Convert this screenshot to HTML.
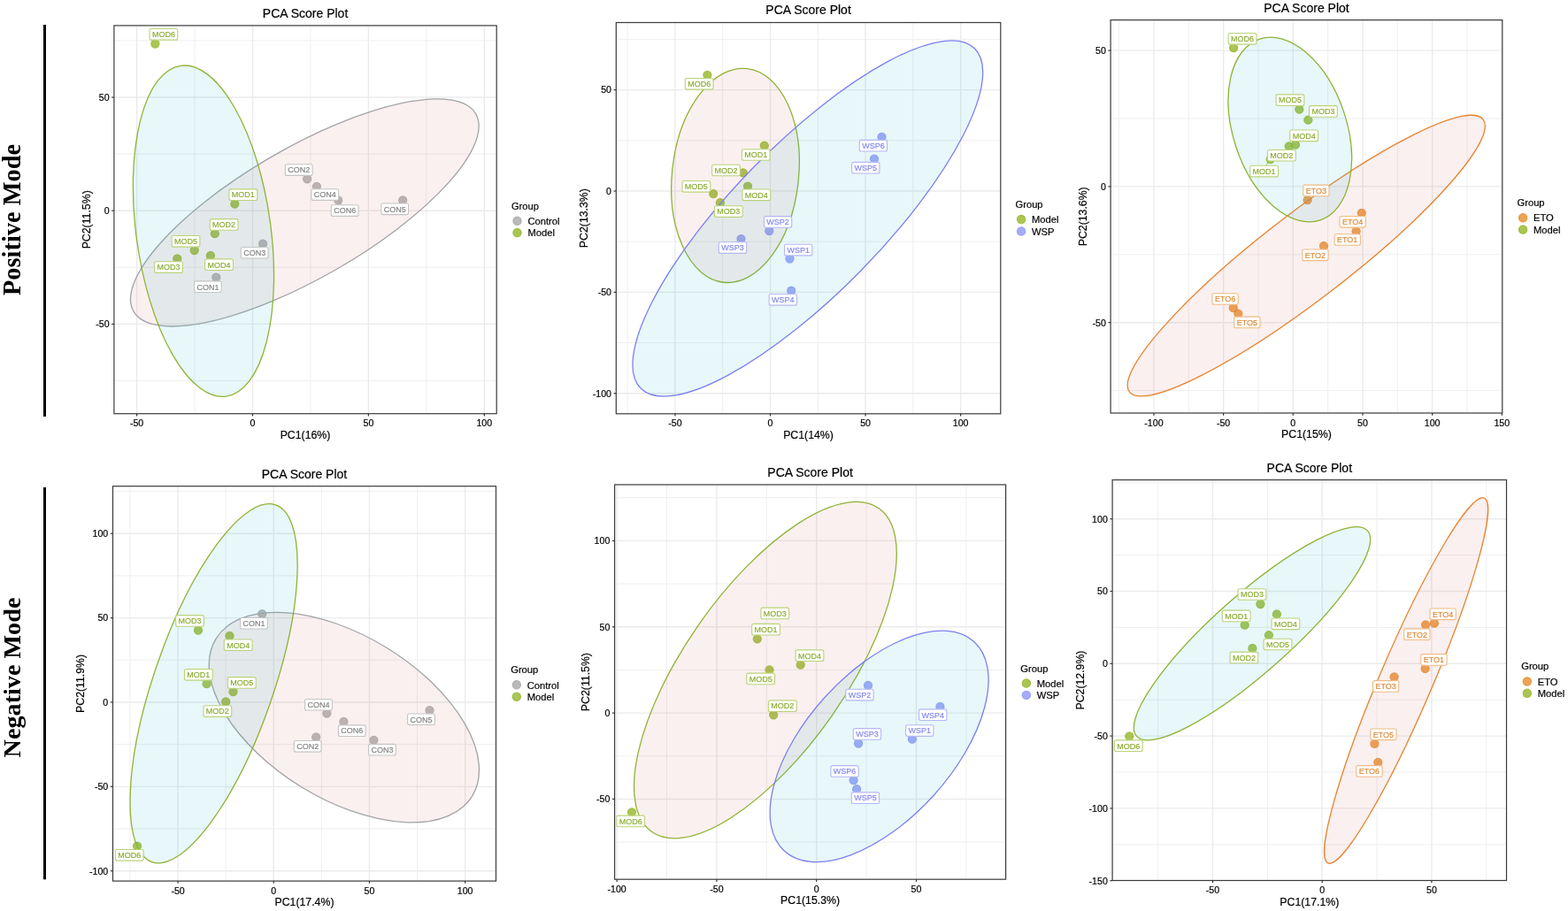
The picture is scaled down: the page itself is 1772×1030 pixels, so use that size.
<!DOCTYPE html>
<html><head><meta charset="utf-8"><title>PCA Score Plots</title><style>html,body{margin:0;padding:0;background:#fff;}svg{display:block;}</style></head><body>
<svg width="1772" height="1030" viewBox="0 0 1772 1030">
<rect width="1772" height="1030" fill="#fff"/>
<rect x="49" y="28" width="3" height="443" fill="#000"/>
<rect x="49" y="551" width="3" height="443.3" fill="#000"/>
<text transform="translate(22.6,248.5) rotate(-90)" text-anchor="middle" font-family="'Liberation Serif', 'Times New Roman', serif" font-weight="bold" font-size="28.4" fill="#000">Positive Mode</text>
<text transform="translate(22.6,766) rotate(-90)" text-anchor="middle" font-family="'Liberation Serif', 'Times New Roman', serif" font-weight="bold" font-size="28.2" fill="#000">Negative Mode</text>
<defs><clipPath id="c0"><rect x="128.9" y="28.9" width="432.3" height="438.8"/></clipPath></defs>
<g clip-path="url(#c0)">
<line x1="220.05" y1="28.9" x2="220.05" y2="467.7" stroke="#efefef" stroke-width="1.0"/>
<line x1="350.95" y1="28.9" x2="350.95" y2="467.7" stroke="#efefef" stroke-width="1.0"/>
<line x1="481.85" y1="28.9" x2="481.85" y2="467.7" stroke="#efefef" stroke-width="1.0"/>
<line x1="128.9" y1="430.5" x2="561.2" y2="430.5" stroke="#efefef" stroke-width="1.0"/>
<line x1="128.9" y1="302.3" x2="561.2" y2="302.3" stroke="#efefef" stroke-width="1.0"/>
<line x1="128.9" y1="174.1" x2="561.2" y2="174.1" stroke="#efefef" stroke-width="1.0"/>
<line x1="128.9" y1="45.9" x2="561.2" y2="45.9" stroke="#efefef" stroke-width="1.0"/>
<line x1="154.6" y1="28.9" x2="154.6" y2="467.7" stroke="#ebebeb" stroke-width="1.4"/>
<line x1="285.5" y1="28.9" x2="285.5" y2="467.7" stroke="#ebebeb" stroke-width="1.4"/>
<line x1="416.4" y1="28.9" x2="416.4" y2="467.7" stroke="#ebebeb" stroke-width="1.4"/>
<line x1="547.3" y1="28.9" x2="547.3" y2="467.7" stroke="#ebebeb" stroke-width="1.4"/>
<line x1="128.9" y1="366.4" x2="561.2" y2="366.4" stroke="#ebebeb" stroke-width="1.4"/>
<line x1="128.9" y1="238.2" x2="561.2" y2="238.2" stroke="#ebebeb" stroke-width="1.4"/>
<line x1="128.9" y1="110" x2="561.2" y2="110" stroke="#ebebeb" stroke-width="1.4"/>
<circle cx="175.4" cy="49.5" r="4.6" fill="#95b628" fill-opacity="0.8" stroke="#95b628" stroke-opacity="0.8" stroke-width="1.1"/>
<circle cx="265.3" cy="230.6" r="4.6" fill="#95b628" fill-opacity="0.8" stroke="#95b628" stroke-opacity="0.8" stroke-width="1.1"/>
<circle cx="242.8" cy="264.2" r="4.6" fill="#95b628" fill-opacity="0.8" stroke="#95b628" stroke-opacity="0.8" stroke-width="1.1"/>
<circle cx="219.7" cy="283" r="4.6" fill="#95b628" fill-opacity="0.8" stroke="#95b628" stroke-opacity="0.8" stroke-width="1.1"/>
<circle cx="200.3" cy="292.5" r="4.6" fill="#95b628" fill-opacity="0.8" stroke="#95b628" stroke-opacity="0.8" stroke-width="1.1"/>
<circle cx="237.9" cy="289" r="4.6" fill="#95b628" fill-opacity="0.8" stroke="#95b628" stroke-opacity="0.8" stroke-width="1.1"/>
<circle cx="244.3" cy="313.6" r="4.6" fill="#a8a8a8" fill-opacity="0.8" stroke="#a8a8a8" stroke-opacity="0.8" stroke-width="1.1"/>
<circle cx="297.1" cy="275.6" r="4.6" fill="#a8a8a8" fill-opacity="0.8" stroke="#a8a8a8" stroke-opacity="0.8" stroke-width="1.1"/>
<circle cx="347.1" cy="202.3" r="4.6" fill="#a8a8a8" fill-opacity="0.8" stroke="#a8a8a8" stroke-opacity="0.8" stroke-width="1.1"/>
<circle cx="357.9" cy="210.8" r="4.6" fill="#a8a8a8" fill-opacity="0.8" stroke="#a8a8a8" stroke-opacity="0.8" stroke-width="1.1"/>
<circle cx="382.2" cy="226.3" r="4.6" fill="#a8a8a8" fill-opacity="0.8" stroke="#a8a8a8" stroke-opacity="0.8" stroke-width="1.1"/>
<circle cx="455.2" cy="226.5" r="4.6" fill="#a8a8a8" fill-opacity="0.8" stroke="#a8a8a8" stroke-opacity="0.8" stroke-width="1.1"/>
<ellipse cx="344.31" cy="240.42" rx="223.32" ry="73.41" transform="rotate(149.98 344.31 240.42)" fill="#cd695f" fill-opacity="0.1" stroke="#a3a3a8" stroke-width="1.3"/>
<ellipse cx="229.95" cy="261.17" rx="188.62" ry="76.06" transform="rotate(-97.81 229.95 261.17)" fill="#19afc3" fill-opacity="0.1" stroke="#8fb334" stroke-width="1.3"/>
<line x1="382.2" y1="226" x2="386.5" y2="232.5" stroke="#a3a3a8" stroke-width="0.9"/>
<rect x="169" y="32.55" width="31.8" height="12.6" rx="2" fill="#fff" stroke="#b9d37a" stroke-width="1.1"/>
<text transform="translate(184.9,42.15) scale(1,1.02)" text-anchor="middle" font-family="'Liberation Sans', Arial, Helvetica, sans-serif" font-size="9" fill="#88aa2c" stroke="#88aa2c" stroke-width="0.15">MOD6</text>
<rect x="258.95" y="213.85" width="31.8" height="12.6" rx="2" fill="#fff" stroke="#b9d37a" stroke-width="1.1"/>
<text transform="translate(274.85,223.45) scale(1,1.02)" text-anchor="middle" font-family="'Liberation Sans', Arial, Helvetica, sans-serif" font-size="9" fill="#88aa2c" stroke="#88aa2c" stroke-width="0.15">MOD1</text>
<rect x="237.2" y="247.6" width="31.8" height="12.6" rx="2" fill="#fff" stroke="#b9d37a" stroke-width="1.1"/>
<text transform="translate(253.1,257.2) scale(1,1.02)" text-anchor="middle" font-family="'Liberation Sans', Arial, Helvetica, sans-serif" font-size="9" fill="#88aa2c" stroke="#88aa2c" stroke-width="0.15">MOD2</text>
<rect x="194.1" y="266.5" width="31.8" height="12.6" rx="2" fill="#fff" stroke="#b9d37a" stroke-width="1.1"/>
<text transform="translate(210,276.1) scale(1,1.02)" text-anchor="middle" font-family="'Liberation Sans', Arial, Helvetica, sans-serif" font-size="9" fill="#88aa2c" stroke="#88aa2c" stroke-width="0.15">MOD5</text>
<rect x="174.65" y="295.8" width="31.8" height="12.6" rx="2" fill="#fff" stroke="#b9d37a" stroke-width="1.1"/>
<text transform="translate(190.55,305.4) scale(1,1.02)" text-anchor="middle" font-family="'Liberation Sans', Arial, Helvetica, sans-serif" font-size="9" fill="#88aa2c" stroke="#88aa2c" stroke-width="0.15">MOD3</text>
<rect x="231.6" y="292.9" width="31.8" height="12.6" rx="2" fill="#fff" stroke="#b9d37a" stroke-width="1.1"/>
<text transform="translate(247.5,302.5) scale(1,1.02)" text-anchor="middle" font-family="'Liberation Sans', Arial, Helvetica, sans-serif" font-size="9" fill="#88aa2c" stroke="#88aa2c" stroke-width="0.15">MOD4</text>
<rect x="219.5" y="317.9" width="30.8" height="12.6" rx="2" fill="#fff" stroke="#c4c4c4" stroke-width="1.1"/>
<text transform="translate(234.9,327.5) scale(1,1.02)" text-anchor="middle" font-family="'Liberation Sans', Arial, Helvetica, sans-serif" font-size="9" fill="#808080" stroke="#808080" stroke-width="0.15">CON1</text>
<rect x="272.25" y="279.45" width="30.8" height="12.6" rx="2" fill="#fff" stroke="#c4c4c4" stroke-width="1.1"/>
<text transform="translate(287.65,289.05) scale(1,1.02)" text-anchor="middle" font-family="'Liberation Sans', Arial, Helvetica, sans-serif" font-size="9" fill="#808080" stroke="#808080" stroke-width="0.15">CON3</text>
<rect x="322.35" y="185.8" width="30.8" height="12.6" rx="2" fill="#fff" stroke="#c4c4c4" stroke-width="1.1"/>
<text transform="translate(337.75,195.4) scale(1,1.02)" text-anchor="middle" font-family="'Liberation Sans', Arial, Helvetica, sans-serif" font-size="9" fill="#808080" stroke="#808080" stroke-width="0.15">CON2</text>
<rect x="351.85" y="213.8" width="30.8" height="12.6" rx="2" fill="#fff" stroke="#c4c4c4" stroke-width="1.1"/>
<text transform="translate(367.25,223.4) scale(1,1.02)" text-anchor="middle" font-family="'Liberation Sans', Arial, Helvetica, sans-serif" font-size="9" fill="#808080" stroke="#808080" stroke-width="0.15">CON4</text>
<rect x="374.25" y="231.8" width="30.8" height="12.6" rx="2" fill="#fff" stroke="#c4c4c4" stroke-width="1.1"/>
<text transform="translate(389.65,241.4) scale(1,1.02)" text-anchor="middle" font-family="'Liberation Sans', Arial, Helvetica, sans-serif" font-size="9" fill="#808080" stroke="#808080" stroke-width="0.15">CON6</text>
<rect x="430.8" y="230" width="30.8" height="12.6" rx="2" fill="#fff" stroke="#c4c4c4" stroke-width="1.1"/>
<text transform="translate(446.2,239.6) scale(1,1.02)" text-anchor="middle" font-family="'Liberation Sans', Arial, Helvetica, sans-serif" font-size="9" fill="#808080" stroke="#808080" stroke-width="0.15">CON5</text>
</g>
<rect x="128.9" y="28.9" width="432.3" height="438.8" fill="none" stroke="#3a3a3a" stroke-width="1.2"/>
<line x1="154.6" y1="467.7" x2="154.6" y2="470.4" stroke="#333" stroke-width="1.2"/>
<text x="154.6" y="482.2" text-anchor="middle" font-family="'Liberation Sans', Arial, Helvetica, sans-serif" font-size="10.6" fill="#000" stroke="#000" stroke-width="0.2">-50</text>
<line x1="285.5" y1="467.7" x2="285.5" y2="470.4" stroke="#333" stroke-width="1.2"/>
<text x="285.5" y="482.2" text-anchor="middle" font-family="'Liberation Sans', Arial, Helvetica, sans-serif" font-size="10.6" fill="#000" stroke="#000" stroke-width="0.2">0</text>
<line x1="416.4" y1="467.7" x2="416.4" y2="470.4" stroke="#333" stroke-width="1.2"/>
<text x="416.4" y="482.2" text-anchor="middle" font-family="'Liberation Sans', Arial, Helvetica, sans-serif" font-size="10.6" fill="#000" stroke="#000" stroke-width="0.2">50</text>
<line x1="547.3" y1="467.7" x2="547.3" y2="470.4" stroke="#333" stroke-width="1.2"/>
<text x="547.3" y="482.2" text-anchor="middle" font-family="'Liberation Sans', Arial, Helvetica, sans-serif" font-size="10.6" fill="#000" stroke="#000" stroke-width="0.2">100</text>
<line x1="126.2" y1="366.4" x2="128.9" y2="366.4" stroke="#333" stroke-width="1.2"/>
<text x="123.6" y="370.2" text-anchor="end" font-family="'Liberation Sans', Arial, Helvetica, sans-serif" font-size="10.6" fill="#000" stroke="#000" stroke-width="0.2">-50</text>
<line x1="126.2" y1="238.2" x2="128.9" y2="238.2" stroke="#333" stroke-width="1.2"/>
<text x="123.6" y="242" text-anchor="end" font-family="'Liberation Sans', Arial, Helvetica, sans-serif" font-size="10.6" fill="#000" stroke="#000" stroke-width="0.2">0</text>
<line x1="126.2" y1="110" x2="128.9" y2="110" stroke="#333" stroke-width="1.2"/>
<text x="123.6" y="113.8" text-anchor="end" font-family="'Liberation Sans', Arial, Helvetica, sans-serif" font-size="10.6" fill="#000" stroke="#000" stroke-width="0.2">50</text>
<text x="345.05" y="19.8" text-anchor="middle" font-family="'Liberation Sans', Arial, Helvetica, sans-serif" font-size="14" fill="#000" stroke="#000" stroke-width="0.2">PCA Score Plot</text>
<text x="345.05" y="495.9" text-anchor="middle" font-family="'Liberation Sans', Arial, Helvetica, sans-serif" font-size="12.3" fill="#000" stroke="#000" stroke-width="0.2">PC1(16%)</text>
<text transform="translate(102.28,248.3) rotate(-90)" text-anchor="middle" font-family="'Liberation Sans', Arial, Helvetica, sans-serif" font-size="12.3" fill="#000" stroke="#000" stroke-width="0.2">PC2(11.5%)</text>
<text x="577.9" y="236.7" font-family="'Liberation Sans', Arial, Helvetica, sans-serif" font-size="11.2" fill="#000" stroke="#000" stroke-width="0.2">Group</text>
<circle cx="584.5" cy="249.7" r="4.7" fill="#a8a8a8" fill-opacity="0.8" stroke="#a8a8a8" stroke-opacity="0.8" stroke-width="1.1"/>
<text x="596.4" y="253.9" font-family="'Liberation Sans', Arial, Helvetica, sans-serif" font-size="11.2" fill="#000" stroke="#000" stroke-width="0.2">Control</text>
<circle cx="584.5" cy="263.1" r="4.7" fill="#95b628" fill-opacity="0.8" stroke="#95b628" stroke-opacity="0.8" stroke-width="1.1"/>
<text x="596.4" y="267.3" font-family="'Liberation Sans', Arial, Helvetica, sans-serif" font-size="11.2" fill="#000" stroke="#000" stroke-width="0.2">Model</text>
<defs><clipPath id="c1"><rect x="696.3" y="25.5" width="434.5" height="442.3"/></clipPath></defs>
<g clip-path="url(#c1)">
<line x1="709.17" y1="25.5" x2="709.17" y2="467.8" stroke="#efefef" stroke-width="1.0"/>
<line x1="816.73" y1="25.5" x2="816.73" y2="467.8" stroke="#efefef" stroke-width="1.0"/>
<line x1="924.27" y1="25.5" x2="924.27" y2="467.8" stroke="#efefef" stroke-width="1.0"/>
<line x1="1031.83" y1="25.5" x2="1031.83" y2="467.8" stroke="#efefef" stroke-width="1.0"/>
<line x1="696.3" y1="387.6" x2="1130.8" y2="387.6" stroke="#efefef" stroke-width="1.0"/>
<line x1="696.3" y1="273.2" x2="1130.8" y2="273.2" stroke="#efefef" stroke-width="1.0"/>
<line x1="696.3" y1="158.8" x2="1130.8" y2="158.8" stroke="#efefef" stroke-width="1.0"/>
<line x1="696.3" y1="44.4" x2="1130.8" y2="44.4" stroke="#efefef" stroke-width="1.0"/>
<line x1="762.95" y1="25.5" x2="762.95" y2="467.8" stroke="#ebebeb" stroke-width="1.4"/>
<line x1="870.5" y1="25.5" x2="870.5" y2="467.8" stroke="#ebebeb" stroke-width="1.4"/>
<line x1="978.05" y1="25.5" x2="978.05" y2="467.8" stroke="#ebebeb" stroke-width="1.4"/>
<line x1="1085.6" y1="25.5" x2="1085.6" y2="467.8" stroke="#ebebeb" stroke-width="1.4"/>
<line x1="696.3" y1="444.8" x2="1130.8" y2="444.8" stroke="#ebebeb" stroke-width="1.4"/>
<line x1="696.3" y1="330.4" x2="1130.8" y2="330.4" stroke="#ebebeb" stroke-width="1.4"/>
<line x1="696.3" y1="216" x2="1130.8" y2="216" stroke="#ebebeb" stroke-width="1.4"/>
<line x1="696.3" y1="101.6" x2="1130.8" y2="101.6" stroke="#ebebeb" stroke-width="1.4"/>
<circle cx="799.4" cy="84.8" r="4.6" fill="#95b628" fill-opacity="0.8" stroke="#95b628" stroke-opacity="0.8" stroke-width="1.1"/>
<circle cx="863.8" cy="164.7" r="4.6" fill="#95b628" fill-opacity="0.8" stroke="#95b628" stroke-opacity="0.8" stroke-width="1.1"/>
<circle cx="839.8" cy="195.3" r="4.6" fill="#95b628" fill-opacity="0.8" stroke="#95b628" stroke-opacity="0.8" stroke-width="1.1"/>
<circle cx="845" cy="210.6" r="4.6" fill="#95b628" fill-opacity="0.8" stroke="#95b628" stroke-opacity="0.8" stroke-width="1.1"/>
<circle cx="806.2" cy="219.1" r="4.6" fill="#95b628" fill-opacity="0.8" stroke="#95b628" stroke-opacity="0.8" stroke-width="1.1"/>
<circle cx="813.9" cy="229.2" r="4.6" fill="#95b628" fill-opacity="0.8" stroke="#95b628" stroke-opacity="0.8" stroke-width="1.1"/>
<circle cx="869.3" cy="261" r="4.6" fill="#8f96f8" fill-opacity="0.8" stroke="#8f96f8" stroke-opacity="0.8" stroke-width="1.1"/>
<circle cx="837.5" cy="270.1" r="4.6" fill="#8f96f8" fill-opacity="0.8" stroke="#8f96f8" stroke-opacity="0.8" stroke-width="1.1"/>
<circle cx="892.5" cy="292.5" r="4.6" fill="#8f96f8" fill-opacity="0.8" stroke="#8f96f8" stroke-opacity="0.8" stroke-width="1.1"/>
<circle cx="894.2" cy="328.6" r="4.6" fill="#8f96f8" fill-opacity="0.8" stroke="#8f96f8" stroke-opacity="0.8" stroke-width="1.1"/>
<circle cx="996.5" cy="154.8" r="4.6" fill="#8f96f8" fill-opacity="0.8" stroke="#8f96f8" stroke-opacity="0.8" stroke-width="1.1"/>
<circle cx="988" cy="179.6" r="4.6" fill="#8f96f8" fill-opacity="0.8" stroke="#8f96f8" stroke-opacity="0.8" stroke-width="1.1"/>
<ellipse cx="831" cy="198.4" rx="121.55" ry="71.5" transform="rotate(-83.76 831 198.4)" fill="#cd695f" fill-opacity="0.1" stroke="#8fb334" stroke-width="1.3"/>
<ellipse cx="912.84" cy="246.99" rx="269.24" ry="84.19" transform="rotate(-45.56 912.84 246.99)" fill="#19afc3" fill-opacity="0.1" stroke="#7b7ff2" stroke-width="1.3"/>
<rect x="774.25" y="88.5" width="31.8" height="12.6" rx="2" fill="#fff" stroke="#b9d37a" stroke-width="1.1"/>
<text transform="translate(790.15,98.1) scale(1,1.02)" text-anchor="middle" font-family="'Liberation Sans', Arial, Helvetica, sans-serif" font-size="9" fill="#88aa2c" stroke="#88aa2c" stroke-width="0.15">MOD6</text>
<rect x="838.35" y="168.7" width="31.8" height="12.6" rx="2" fill="#fff" stroke="#b9d37a" stroke-width="1.1"/>
<text transform="translate(854.25,178.3) scale(1,1.02)" text-anchor="middle" font-family="'Liberation Sans', Arial, Helvetica, sans-serif" font-size="9" fill="#88aa2c" stroke="#88aa2c" stroke-width="0.15">MOD1</text>
<rect x="804.65" y="186.2" width="31.8" height="12.6" rx="2" fill="#fff" stroke="#b9d37a" stroke-width="1.1"/>
<text transform="translate(820.55,195.8) scale(1,1.02)" text-anchor="middle" font-family="'Liberation Sans', Arial, Helvetica, sans-serif" font-size="9" fill="#88aa2c" stroke="#88aa2c" stroke-width="0.15">MOD2</text>
<rect x="838.85" y="214" width="31.8" height="12.6" rx="2" fill="#fff" stroke="#b9d37a" stroke-width="1.1"/>
<text transform="translate(854.75,223.6) scale(1,1.02)" text-anchor="middle" font-family="'Liberation Sans', Arial, Helvetica, sans-serif" font-size="9" fill="#88aa2c" stroke="#88aa2c" stroke-width="0.15">MOD4</text>
<rect x="770.95" y="204.5" width="31.8" height="12.6" rx="2" fill="#fff" stroke="#b9d37a" stroke-width="1.1"/>
<text transform="translate(786.85,214.1) scale(1,1.02)" text-anchor="middle" font-family="'Liberation Sans', Arial, Helvetica, sans-serif" font-size="9" fill="#88aa2c" stroke="#88aa2c" stroke-width="0.15">MOD5</text>
<rect x="807.45" y="232.75" width="31.8" height="12.6" rx="2" fill="#fff" stroke="#b9d37a" stroke-width="1.1"/>
<text transform="translate(823.35,242.35) scale(1,1.02)" text-anchor="middle" font-family="'Liberation Sans', Arial, Helvetica, sans-serif" font-size="9" fill="#88aa2c" stroke="#88aa2c" stroke-width="0.15">MOD3</text>
<rect x="863.45" y="244.65" width="31.31" height="12.6" rx="2" fill="#fff" stroke="#b4b8f7" stroke-width="1.1"/>
<text transform="translate(879.1,254.25) scale(1,1.02)" text-anchor="middle" font-family="'Liberation Sans', Arial, Helvetica, sans-serif" font-size="9" fill="#8086ee" stroke="#8086ee" stroke-width="0.15">WSP2</text>
<rect x="812.3" y="273.8" width="31.31" height="12.6" rx="2" fill="#fff" stroke="#b4b8f7" stroke-width="1.1"/>
<text transform="translate(827.95,283.4) scale(1,1.02)" text-anchor="middle" font-family="'Liberation Sans', Arial, Helvetica, sans-serif" font-size="9" fill="#8086ee" stroke="#8086ee" stroke-width="0.15">WSP3</text>
<rect x="886.55" y="276.3" width="31.31" height="12.6" rx="2" fill="#fff" stroke="#b4b8f7" stroke-width="1.1"/>
<text transform="translate(902.2,285.9) scale(1,1.02)" text-anchor="middle" font-family="'Liberation Sans', Arial, Helvetica, sans-serif" font-size="9" fill="#8086ee" stroke="#8086ee" stroke-width="0.15">WSP1</text>
<rect x="869.2" y="332.55" width="31.31" height="12.6" rx="2" fill="#fff" stroke="#b4b8f7" stroke-width="1.1"/>
<text transform="translate(884.85,342.15) scale(1,1.02)" text-anchor="middle" font-family="'Liberation Sans', Arial, Helvetica, sans-serif" font-size="9" fill="#8086ee" stroke="#8086ee" stroke-width="0.15">WSP4</text>
<rect x="971.25" y="158.4" width="31.31" height="12.6" rx="2" fill="#fff" stroke="#b4b8f7" stroke-width="1.1"/>
<text transform="translate(986.9,168) scale(1,1.02)" text-anchor="middle" font-family="'Liberation Sans', Arial, Helvetica, sans-serif" font-size="9" fill="#8086ee" stroke="#8086ee" stroke-width="0.15">WSP6</text>
<rect x="962.65" y="183.4" width="31.31" height="12.6" rx="2" fill="#fff" stroke="#b4b8f7" stroke-width="1.1"/>
<text transform="translate(978.3,193) scale(1,1.02)" text-anchor="middle" font-family="'Liberation Sans', Arial, Helvetica, sans-serif" font-size="9" fill="#8086ee" stroke="#8086ee" stroke-width="0.15">WSP5</text>
</g>
<rect x="696.3" y="25.5" width="434.5" height="442.3" fill="none" stroke="#3a3a3a" stroke-width="1.2"/>
<line x1="762.95" y1="467.8" x2="762.95" y2="470.5" stroke="#333" stroke-width="1.2"/>
<text x="762.95" y="482.3" text-anchor="middle" font-family="'Liberation Sans', Arial, Helvetica, sans-serif" font-size="10.6" fill="#000" stroke="#000" stroke-width="0.2">-50</text>
<line x1="870.5" y1="467.8" x2="870.5" y2="470.5" stroke="#333" stroke-width="1.2"/>
<text x="870.5" y="482.3" text-anchor="middle" font-family="'Liberation Sans', Arial, Helvetica, sans-serif" font-size="10.6" fill="#000" stroke="#000" stroke-width="0.2">0</text>
<line x1="978.05" y1="467.8" x2="978.05" y2="470.5" stroke="#333" stroke-width="1.2"/>
<text x="978.05" y="482.3" text-anchor="middle" font-family="'Liberation Sans', Arial, Helvetica, sans-serif" font-size="10.6" fill="#000" stroke="#000" stroke-width="0.2">50</text>
<line x1="1085.6" y1="467.8" x2="1085.6" y2="470.5" stroke="#333" stroke-width="1.2"/>
<text x="1085.6" y="482.3" text-anchor="middle" font-family="'Liberation Sans', Arial, Helvetica, sans-serif" font-size="10.6" fill="#000" stroke="#000" stroke-width="0.2">100</text>
<line x1="693.6" y1="444.8" x2="696.3" y2="444.8" stroke="#333" stroke-width="1.2"/>
<text x="691" y="448.6" text-anchor="end" font-family="'Liberation Sans', Arial, Helvetica, sans-serif" font-size="10.6" fill="#000" stroke="#000" stroke-width="0.2">-100</text>
<line x1="693.6" y1="330.4" x2="696.3" y2="330.4" stroke="#333" stroke-width="1.2"/>
<text x="691" y="334.2" text-anchor="end" font-family="'Liberation Sans', Arial, Helvetica, sans-serif" font-size="10.6" fill="#000" stroke="#000" stroke-width="0.2">-50</text>
<line x1="693.6" y1="216" x2="696.3" y2="216" stroke="#333" stroke-width="1.2"/>
<text x="691" y="219.8" text-anchor="end" font-family="'Liberation Sans', Arial, Helvetica, sans-serif" font-size="10.6" fill="#000" stroke="#000" stroke-width="0.2">0</text>
<line x1="693.6" y1="101.6" x2="696.3" y2="101.6" stroke="#333" stroke-width="1.2"/>
<text x="691" y="105.4" text-anchor="end" font-family="'Liberation Sans', Arial, Helvetica, sans-serif" font-size="10.6" fill="#000" stroke="#000" stroke-width="0.2">50</text>
<text x="913.55" y="16.4" text-anchor="middle" font-family="'Liberation Sans', Arial, Helvetica, sans-serif" font-size="14" fill="#000" stroke="#000" stroke-width="0.2">PCA Score Plot</text>
<text x="913.55" y="496" text-anchor="middle" font-family="'Liberation Sans', Arial, Helvetica, sans-serif" font-size="12.3" fill="#000" stroke="#000" stroke-width="0.2">PC1(14%)</text>
<text transform="translate(663.79,246.65) rotate(-90)" text-anchor="middle" font-family="'Liberation Sans', Arial, Helvetica, sans-serif" font-size="12.3" fill="#000" stroke="#000" stroke-width="0.2">PC2(13.3%)</text>
<text x="1147.5" y="235.05" font-family="'Liberation Sans', Arial, Helvetica, sans-serif" font-size="11.2" fill="#000" stroke="#000" stroke-width="0.2">Group</text>
<circle cx="1154.1" cy="248.05" r="4.7" fill="#95b628" fill-opacity="0.8" stroke="#95b628" stroke-opacity="0.8" stroke-width="1.1"/>
<text x="1166" y="252.25" font-family="'Liberation Sans', Arial, Helvetica, sans-serif" font-size="11.2" fill="#000" stroke="#000" stroke-width="0.2">Model</text>
<circle cx="1154.1" cy="261.45" r="4.7" fill="#8f96f8" fill-opacity="0.8" stroke="#8f96f8" stroke-opacity="0.8" stroke-width="1.1"/>
<text x="1166" y="265.65" font-family="'Liberation Sans', Arial, Helvetica, sans-serif" font-size="11.2" fill="#000" stroke="#000" stroke-width="0.2">WSP</text>
<defs><clipPath id="c2"><rect x="1255.1" y="22.6" width="442.7" height="444.4"/></clipPath></defs>
<g clip-path="url(#c2)">
<line x1="1264.61" y1="22.6" x2="1264.61" y2="467" stroke="#efefef" stroke-width="1.0"/>
<line x1="1343.29" y1="22.6" x2="1343.29" y2="467" stroke="#efefef" stroke-width="1.0"/>
<line x1="1421.96" y1="22.6" x2="1421.96" y2="467" stroke="#efefef" stroke-width="1.0"/>
<line x1="1500.64" y1="22.6" x2="1500.64" y2="467" stroke="#efefef" stroke-width="1.0"/>
<line x1="1579.31" y1="22.6" x2="1579.31" y2="467" stroke="#efefef" stroke-width="1.0"/>
<line x1="1657.99" y1="22.6" x2="1657.99" y2="467" stroke="#efefef" stroke-width="1.0"/>
<line x1="1255.1" y1="441.6" x2="1697.8" y2="441.6" stroke="#efefef" stroke-width="1.0"/>
<line x1="1255.1" y1="287.8" x2="1697.8" y2="287.8" stroke="#efefef" stroke-width="1.0"/>
<line x1="1255.1" y1="134" x2="1697.8" y2="134" stroke="#efefef" stroke-width="1.0"/>
<line x1="1303.95" y1="22.6" x2="1303.95" y2="467" stroke="#ebebeb" stroke-width="1.4"/>
<line x1="1382.62" y1="22.6" x2="1382.62" y2="467" stroke="#ebebeb" stroke-width="1.4"/>
<line x1="1461.3" y1="22.6" x2="1461.3" y2="467" stroke="#ebebeb" stroke-width="1.4"/>
<line x1="1539.97" y1="22.6" x2="1539.97" y2="467" stroke="#ebebeb" stroke-width="1.4"/>
<line x1="1618.65" y1="22.6" x2="1618.65" y2="467" stroke="#ebebeb" stroke-width="1.4"/>
<line x1="1697.32" y1="22.6" x2="1697.32" y2="467" stroke="#ebebeb" stroke-width="1.4"/>
<line x1="1255.1" y1="364.7" x2="1697.8" y2="364.7" stroke="#ebebeb" stroke-width="1.4"/>
<line x1="1255.1" y1="210.9" x2="1697.8" y2="210.9" stroke="#ebebeb" stroke-width="1.4"/>
<line x1="1255.1" y1="57.1" x2="1697.8" y2="57.1" stroke="#ebebeb" stroke-width="1.4"/>
<circle cx="1394.1" cy="54.2" r="4.6" fill="#95b628" fill-opacity="0.8" stroke="#95b628" stroke-opacity="0.8" stroke-width="1.1"/>
<circle cx="1468.3" cy="123.6" r="4.6" fill="#95b628" fill-opacity="0.8" stroke="#95b628" stroke-opacity="0.8" stroke-width="1.1"/>
<circle cx="1478.3" cy="135.7" r="4.6" fill="#95b628" fill-opacity="0.8" stroke="#95b628" stroke-opacity="0.8" stroke-width="1.1"/>
<circle cx="1456.6" cy="165.3" r="4.6" fill="#95b628" fill-opacity="0.8" stroke="#95b628" stroke-opacity="0.8" stroke-width="1.1"/>
<circle cx="1464" cy="163.7" r="4.6" fill="#95b628" fill-opacity="0.8" stroke="#95b628" stroke-opacity="0.8" stroke-width="1.1"/>
<circle cx="1435.7" cy="180.1" r="4.6" fill="#95b628" fill-opacity="0.8" stroke="#95b628" stroke-opacity="0.8" stroke-width="1.1"/>
<circle cx="1477.6" cy="226.2" r="4.6" fill="#e78c2c" fill-opacity="0.8" stroke="#e78c2c" stroke-opacity="0.8" stroke-width="1.1"/>
<circle cx="1538.8" cy="240.8" r="4.6" fill="#e78c2c" fill-opacity="0.8" stroke="#e78c2c" stroke-opacity="0.8" stroke-width="1.1"/>
<circle cx="1532.6" cy="261.6" r="4.6" fill="#e78c2c" fill-opacity="0.8" stroke="#e78c2c" stroke-opacity="0.8" stroke-width="1.1"/>
<circle cx="1496" cy="278.1" r="4.6" fill="#e78c2c" fill-opacity="0.8" stroke="#e78c2c" stroke-opacity="0.8" stroke-width="1.1"/>
<circle cx="1393.7" cy="348" r="4.6" fill="#e78c2c" fill-opacity="0.8" stroke="#e78c2c" stroke-opacity="0.8" stroke-width="1.1"/>
<circle cx="1399.3" cy="354.6" r="4.6" fill="#e78c2c" fill-opacity="0.8" stroke="#e78c2c" stroke-opacity="0.8" stroke-width="1.1"/>
<ellipse cx="1476.24" cy="289.08" rx="252.33" ry="48.83" transform="rotate(142.38 1476.24 289.08)" fill="#cd695f" fill-opacity="0.1" stroke="#e8822c" stroke-width="1.3"/>
<ellipse cx="1457.79" cy="146.46" rx="107.97" ry="64.04" transform="rotate(-108.52 1457.79 146.46)" fill="#19afc3" fill-opacity="0.1" stroke="#8fb334" stroke-width="1.3"/>
<line x1="1435.7" y1="179.8" x2="1430.4" y2="187.5" stroke="#8fb334" stroke-width="0.9"/>
<rect x="1388.15" y="37.55" width="31.8" height="12.6" rx="2" fill="#fff" stroke="#b9d37a" stroke-width="1.1"/>
<text transform="translate(1404.05,47.15) scale(1,1.02)" text-anchor="middle" font-family="'Liberation Sans', Arial, Helvetica, sans-serif" font-size="9" fill="#88aa2c" stroke="#88aa2c" stroke-width="0.15">MOD6</text>
<rect x="1442.05" y="106.85" width="31.8" height="12.6" rx="2" fill="#fff" stroke="#b9d37a" stroke-width="1.1"/>
<text transform="translate(1457.95,116.45) scale(1,1.02)" text-anchor="middle" font-family="'Liberation Sans', Arial, Helvetica, sans-serif" font-size="9" fill="#88aa2c" stroke="#88aa2c" stroke-width="0.15">MOD5</text>
<rect x="1479.5" y="119.65" width="31.8" height="12.6" rx="2" fill="#fff" stroke="#b9d37a" stroke-width="1.1"/>
<text transform="translate(1495.4,129.25) scale(1,1.02)" text-anchor="middle" font-family="'Liberation Sans', Arial, Helvetica, sans-serif" font-size="9" fill="#88aa2c" stroke="#88aa2c" stroke-width="0.15">MOD3</text>
<rect x="1432.45" y="169.45" width="31.8" height="12.6" rx="2" fill="#fff" stroke="#b9d37a" stroke-width="1.1"/>
<text transform="translate(1448.35,179.05) scale(1,1.02)" text-anchor="middle" font-family="'Liberation Sans', Arial, Helvetica, sans-serif" font-size="9" fill="#88aa2c" stroke="#88aa2c" stroke-width="0.15">MOD2</text>
<rect x="1457.75" y="147.05" width="31.8" height="12.6" rx="2" fill="#fff" stroke="#b9d37a" stroke-width="1.1"/>
<text transform="translate(1473.65,156.65) scale(1,1.02)" text-anchor="middle" font-family="'Liberation Sans', Arial, Helvetica, sans-serif" font-size="9" fill="#88aa2c" stroke="#88aa2c" stroke-width="0.15">MOD4</text>
<rect x="1412.7" y="187.3" width="31.8" height="12.6" rx="2" fill="#fff" stroke="#b9d37a" stroke-width="1.1"/>
<text transform="translate(1428.6,196.9) scale(1,1.02)" text-anchor="middle" font-family="'Liberation Sans', Arial, Helvetica, sans-serif" font-size="9" fill="#88aa2c" stroke="#88aa2c" stroke-width="0.15">MOD1</text>
<rect x="1472.65" y="209.15" width="29.31" height="12.6" rx="2" fill="#fff" stroke="#f0bb84" stroke-width="1.1"/>
<text transform="translate(1487.3,218.75) scale(1,1.02)" text-anchor="middle" font-family="'Liberation Sans', Arial, Helvetica, sans-serif" font-size="9" fill="#dd8530" stroke="#dd8530" stroke-width="0.15">ETO3</text>
<rect x="1514" y="244.5" width="29.31" height="12.6" rx="2" fill="#fff" stroke="#f0bb84" stroke-width="1.1"/>
<text transform="translate(1528.65,254.1) scale(1,1.02)" text-anchor="middle" font-family="'Liberation Sans', Arial, Helvetica, sans-serif" font-size="9" fill="#dd8530" stroke="#dd8530" stroke-width="0.15">ETO4</text>
<rect x="1508.05" y="264.7" width="29.31" height="12.6" rx="2" fill="#fff" stroke="#f0bb84" stroke-width="1.1"/>
<text transform="translate(1522.7,274.3) scale(1,1.02)" text-anchor="middle" font-family="'Liberation Sans', Arial, Helvetica, sans-serif" font-size="9" fill="#dd8530" stroke="#dd8530" stroke-width="0.15">ETO1</text>
<rect x="1471.75" y="282.05" width="29.31" height="12.6" rx="2" fill="#fff" stroke="#f0bb84" stroke-width="1.1"/>
<text transform="translate(1486.4,291.65) scale(1,1.02)" text-anchor="middle" font-family="'Liberation Sans', Arial, Helvetica, sans-serif" font-size="9" fill="#dd8530" stroke="#dd8530" stroke-width="0.15">ETO2</text>
<rect x="1369.95" y="331.7" width="29.31" height="12.6" rx="2" fill="#fff" stroke="#f0bb84" stroke-width="1.1"/>
<text transform="translate(1384.6,341.3) scale(1,1.02)" text-anchor="middle" font-family="'Liberation Sans', Arial, Helvetica, sans-serif" font-size="9" fill="#dd8530" stroke="#dd8530" stroke-width="0.15">ETO6</text>
<rect x="1394.7" y="358.1" width="29.31" height="12.6" rx="2" fill="#fff" stroke="#f0bb84" stroke-width="1.1"/>
<text transform="translate(1409.35,367.7) scale(1,1.02)" text-anchor="middle" font-family="'Liberation Sans', Arial, Helvetica, sans-serif" font-size="9" fill="#dd8530" stroke="#dd8530" stroke-width="0.15">ETO5</text>
</g>
<rect x="1255.1" y="22.6" width="442.7" height="444.4" fill="none" stroke="#3a3a3a" stroke-width="1.2"/>
<line x1="1303.95" y1="467" x2="1303.95" y2="469.7" stroke="#333" stroke-width="1.2"/>
<text x="1303.95" y="481.5" text-anchor="middle" font-family="'Liberation Sans', Arial, Helvetica, sans-serif" font-size="10.6" fill="#000" stroke="#000" stroke-width="0.2">-100</text>
<line x1="1382.62" y1="467" x2="1382.62" y2="469.7" stroke="#333" stroke-width="1.2"/>
<text x="1382.62" y="481.5" text-anchor="middle" font-family="'Liberation Sans', Arial, Helvetica, sans-serif" font-size="10.6" fill="#000" stroke="#000" stroke-width="0.2">-50</text>
<line x1="1461.3" y1="467" x2="1461.3" y2="469.7" stroke="#333" stroke-width="1.2"/>
<text x="1461.3" y="481.5" text-anchor="middle" font-family="'Liberation Sans', Arial, Helvetica, sans-serif" font-size="10.6" fill="#000" stroke="#000" stroke-width="0.2">0</text>
<line x1="1539.97" y1="467" x2="1539.97" y2="469.7" stroke="#333" stroke-width="1.2"/>
<text x="1539.97" y="481.5" text-anchor="middle" font-family="'Liberation Sans', Arial, Helvetica, sans-serif" font-size="10.6" fill="#000" stroke="#000" stroke-width="0.2">50</text>
<line x1="1618.65" y1="467" x2="1618.65" y2="469.7" stroke="#333" stroke-width="1.2"/>
<text x="1618.65" y="481.5" text-anchor="middle" font-family="'Liberation Sans', Arial, Helvetica, sans-serif" font-size="10.6" fill="#000" stroke="#000" stroke-width="0.2">100</text>
<line x1="1697.32" y1="467" x2="1697.32" y2="469.7" stroke="#333" stroke-width="1.2"/>
<text x="1697.32" y="481.5" text-anchor="middle" font-family="'Liberation Sans', Arial, Helvetica, sans-serif" font-size="10.6" fill="#000" stroke="#000" stroke-width="0.2">150</text>
<line x1="1252.4" y1="364.7" x2="1255.1" y2="364.7" stroke="#333" stroke-width="1.2"/>
<text x="1249.8" y="368.5" text-anchor="end" font-family="'Liberation Sans', Arial, Helvetica, sans-serif" font-size="10.6" fill="#000" stroke="#000" stroke-width="0.2">-50</text>
<line x1="1252.4" y1="210.9" x2="1255.1" y2="210.9" stroke="#333" stroke-width="1.2"/>
<text x="1249.8" y="214.7" text-anchor="end" font-family="'Liberation Sans', Arial, Helvetica, sans-serif" font-size="10.6" fill="#000" stroke="#000" stroke-width="0.2">0</text>
<line x1="1252.4" y1="57.1" x2="1255.1" y2="57.1" stroke="#333" stroke-width="1.2"/>
<text x="1249.8" y="60.9" text-anchor="end" font-family="'Liberation Sans', Arial, Helvetica, sans-serif" font-size="10.6" fill="#000" stroke="#000" stroke-width="0.2">50</text>
<text x="1476.45" y="13.5" text-anchor="middle" font-family="'Liberation Sans', Arial, Helvetica, sans-serif" font-size="14" fill="#000" stroke="#000" stroke-width="0.2">PCA Score Plot</text>
<text x="1476.45" y="495.2" text-anchor="middle" font-family="'Liberation Sans', Arial, Helvetica, sans-serif" font-size="12.3" fill="#000" stroke="#000" stroke-width="0.2">PC1(15%)</text>
<text transform="translate(1228.48,244.8) rotate(-90)" text-anchor="middle" font-family="'Liberation Sans', Arial, Helvetica, sans-serif" font-size="12.3" fill="#000" stroke="#000" stroke-width="0.2">PC2(13.6%)</text>
<text x="1714.5" y="233.2" font-family="'Liberation Sans', Arial, Helvetica, sans-serif" font-size="11.2" fill="#000" stroke="#000" stroke-width="0.2">Group</text>
<circle cx="1721.1" cy="246.2" r="4.7" fill="#e78c2c" fill-opacity="0.8" stroke="#e78c2c" stroke-opacity="0.8" stroke-width="1.1"/>
<text x="1733" y="250.4" font-family="'Liberation Sans', Arial, Helvetica, sans-serif" font-size="11.2" fill="#000" stroke="#000" stroke-width="0.2">ETO</text>
<circle cx="1721.1" cy="259.6" r="4.7" fill="#95b628" fill-opacity="0.8" stroke="#95b628" stroke-opacity="0.8" stroke-width="1.1"/>
<text x="1733" y="263.8" font-family="'Liberation Sans', Arial, Helvetica, sans-serif" font-size="11.2" fill="#000" stroke="#000" stroke-width="0.2">Model</text>
<defs><clipPath id="c3"><rect x="127.5" y="549.7" width="433" height="446.4"/></clipPath></defs>
<g clip-path="url(#c3)">
<line x1="146.95" y1="549.7" x2="146.95" y2="996.1" stroke="#efefef" stroke-width="1.0"/>
<line x1="255.15" y1="549.7" x2="255.15" y2="996.1" stroke="#efefef" stroke-width="1.0"/>
<line x1="363.35" y1="549.7" x2="363.35" y2="996.1" stroke="#efefef" stroke-width="1.0"/>
<line x1="471.55" y1="549.7" x2="471.55" y2="996.1" stroke="#efefef" stroke-width="1.0"/>
<line x1="127.5" y1="937.01" x2="560.5" y2="937.01" stroke="#efefef" stroke-width="1.0"/>
<line x1="127.5" y1="841.64" x2="560.5" y2="841.64" stroke="#efefef" stroke-width="1.0"/>
<line x1="127.5" y1="746.26" x2="560.5" y2="746.26" stroke="#efefef" stroke-width="1.0"/>
<line x1="127.5" y1="650.89" x2="560.5" y2="650.89" stroke="#efefef" stroke-width="1.0"/>
<line x1="127.5" y1="555.51" x2="560.5" y2="555.51" stroke="#efefef" stroke-width="1.0"/>
<line x1="201.05" y1="549.7" x2="201.05" y2="996.1" stroke="#ebebeb" stroke-width="1.4"/>
<line x1="309.25" y1="549.7" x2="309.25" y2="996.1" stroke="#ebebeb" stroke-width="1.4"/>
<line x1="417.45" y1="549.7" x2="417.45" y2="996.1" stroke="#ebebeb" stroke-width="1.4"/>
<line x1="525.65" y1="549.7" x2="525.65" y2="996.1" stroke="#ebebeb" stroke-width="1.4"/>
<line x1="127.5" y1="984.7" x2="560.5" y2="984.7" stroke="#ebebeb" stroke-width="1.4"/>
<line x1="127.5" y1="889.33" x2="560.5" y2="889.33" stroke="#ebebeb" stroke-width="1.4"/>
<line x1="127.5" y1="793.95" x2="560.5" y2="793.95" stroke="#ebebeb" stroke-width="1.4"/>
<line x1="127.5" y1="698.58" x2="560.5" y2="698.58" stroke="#ebebeb" stroke-width="1.4"/>
<line x1="127.5" y1="603.2" x2="560.5" y2="603.2" stroke="#ebebeb" stroke-width="1.4"/>
<circle cx="224" cy="712.6" r="4.6" fill="#95b628" fill-opacity="0.8" stroke="#95b628" stroke-opacity="0.8" stroke-width="1.1"/>
<circle cx="296.2" cy="694.1" r="4.6" fill="#a8a8a8" fill-opacity="0.8" stroke="#a8a8a8" stroke-opacity="0.8" stroke-width="1.1"/>
<circle cx="259.5" cy="718.9" r="4.6" fill="#95b628" fill-opacity="0.8" stroke="#95b628" stroke-opacity="0.8" stroke-width="1.1"/>
<circle cx="233.6" cy="773.2" r="4.6" fill="#95b628" fill-opacity="0.8" stroke="#95b628" stroke-opacity="0.8" stroke-width="1.1"/>
<circle cx="263.5" cy="782.2" r="4.6" fill="#95b628" fill-opacity="0.8" stroke="#95b628" stroke-opacity="0.8" stroke-width="1.1"/>
<circle cx="255.2" cy="793.5" r="4.6" fill="#95b628" fill-opacity="0.8" stroke="#95b628" stroke-opacity="0.8" stroke-width="1.1"/>
<circle cx="155" cy="956.6" r="4.6" fill="#95b628" fill-opacity="0.8" stroke="#95b628" stroke-opacity="0.8" stroke-width="1.1"/>
<circle cx="369.4" cy="806.5" r="4.6" fill="#a8a8a8" fill-opacity="0.8" stroke="#a8a8a8" stroke-opacity="0.8" stroke-width="1.1"/>
<circle cx="388.4" cy="815.9" r="4.6" fill="#a8a8a8" fill-opacity="0.8" stroke="#a8a8a8" stroke-opacity="0.8" stroke-width="1.1"/>
<circle cx="357.2" cy="833.4" r="4.6" fill="#a8a8a8" fill-opacity="0.8" stroke="#a8a8a8" stroke-opacity="0.8" stroke-width="1.1"/>
<circle cx="422.4" cy="836.8" r="4.6" fill="#a8a8a8" fill-opacity="0.8" stroke="#a8a8a8" stroke-opacity="0.8" stroke-width="1.1"/>
<circle cx="485.5" cy="803.1" r="4.6" fill="#a8a8a8" fill-opacity="0.8" stroke="#a8a8a8" stroke-opacity="0.8" stroke-width="1.1"/>
<ellipse cx="388.86" cy="811.11" rx="169.92" ry="92.29" transform="rotate(-148.42 388.86 811.11)" fill="#cd695f" fill-opacity="0.1" stroke="#a3a3a8" stroke-width="1.3"/>
<ellipse cx="241.6" cy="772.74" rx="213.6" ry="67.49" transform="rotate(-70.91 241.6 772.74)" fill="#19afc3" fill-opacity="0.1" stroke="#8fb334" stroke-width="1.3"/>
<rect x="198.65" y="695.65" width="31.8" height="12.6" rx="2" fill="#fff" stroke="#b9d37a" stroke-width="1.1"/>
<text transform="translate(214.55,705.25) scale(1,1.02)" text-anchor="middle" font-family="'Liberation Sans', Arial, Helvetica, sans-serif" font-size="9" fill="#88aa2c" stroke="#88aa2c" stroke-width="0.15">MOD3</text>
<rect x="271.6" y="698.45" width="30.8" height="12.6" rx="2" fill="#fff" stroke="#c4c4c4" stroke-width="1.1"/>
<text transform="translate(287,708.05) scale(1,1.02)" text-anchor="middle" font-family="'Liberation Sans', Arial, Helvetica, sans-serif" font-size="9" fill="#808080" stroke="#808080" stroke-width="0.15">CON1</text>
<rect x="253.25" y="722.95" width="31.8" height="12.6" rx="2" fill="#fff" stroke="#b9d37a" stroke-width="1.1"/>
<text transform="translate(269.15,732.55) scale(1,1.02)" text-anchor="middle" font-family="'Liberation Sans', Arial, Helvetica, sans-serif" font-size="9" fill="#88aa2c" stroke="#88aa2c" stroke-width="0.15">MOD4</text>
<rect x="208.45" y="756.5" width="31.8" height="12.6" rx="2" fill="#fff" stroke="#b9d37a" stroke-width="1.1"/>
<text transform="translate(224.35,766.1) scale(1,1.02)" text-anchor="middle" font-family="'Liberation Sans', Arial, Helvetica, sans-serif" font-size="9" fill="#88aa2c" stroke="#88aa2c" stroke-width="0.15">MOD1</text>
<rect x="257.4" y="765.65" width="31.8" height="12.6" rx="2" fill="#fff" stroke="#b9d37a" stroke-width="1.1"/>
<text transform="translate(273.3,775.25) scale(1,1.02)" text-anchor="middle" font-family="'Liberation Sans', Arial, Helvetica, sans-serif" font-size="9" fill="#88aa2c" stroke="#88aa2c" stroke-width="0.15">MOD5</text>
<rect x="229.9" y="797.8" width="31.8" height="12.6" rx="2" fill="#fff" stroke="#b9d37a" stroke-width="1.1"/>
<text transform="translate(245.8,807.4) scale(1,1.02)" text-anchor="middle" font-family="'Liberation Sans', Arial, Helvetica, sans-serif" font-size="9" fill="#88aa2c" stroke="#88aa2c" stroke-width="0.15">MOD2</text>
<rect x="130.3" y="960.5" width="31.8" height="12.6" rx="2" fill="#fff" stroke="#b9d37a" stroke-width="1.1"/>
<text transform="translate(146.2,970.1) scale(1,1.02)" text-anchor="middle" font-family="'Liberation Sans', Arial, Helvetica, sans-serif" font-size="9" fill="#88aa2c" stroke="#88aa2c" stroke-width="0.15">MOD6</text>
<rect x="344.55" y="790.45" width="30.8" height="12.6" rx="2" fill="#fff" stroke="#c4c4c4" stroke-width="1.1"/>
<text transform="translate(359.95,800.05) scale(1,1.02)" text-anchor="middle" font-family="'Liberation Sans', Arial, Helvetica, sans-serif" font-size="9" fill="#808080" stroke="#808080" stroke-width="0.15">CON4</text>
<rect x="382.4" y="819.85" width="30.8" height="12.6" rx="2" fill="#fff" stroke="#c4c4c4" stroke-width="1.1"/>
<text transform="translate(397.8,829.45) scale(1,1.02)" text-anchor="middle" font-family="'Liberation Sans', Arial, Helvetica, sans-serif" font-size="9" fill="#808080" stroke="#808080" stroke-width="0.15">CON6</text>
<rect x="332.25" y="837.5" width="30.8" height="12.6" rx="2" fill="#fff" stroke="#c4c4c4" stroke-width="1.1"/>
<text transform="translate(347.65,847.1) scale(1,1.02)" text-anchor="middle" font-family="'Liberation Sans', Arial, Helvetica, sans-serif" font-size="9" fill="#808080" stroke="#808080" stroke-width="0.15">CON2</text>
<rect x="416.6" y="841.35" width="30.8" height="12.6" rx="2" fill="#fff" stroke="#c4c4c4" stroke-width="1.1"/>
<text transform="translate(432,850.95) scale(1,1.02)" text-anchor="middle" font-family="'Liberation Sans', Arial, Helvetica, sans-serif" font-size="9" fill="#808080" stroke="#808080" stroke-width="0.15">CON3</text>
<rect x="460.6" y="806.95" width="30.8" height="12.6" rx="2" fill="#fff" stroke="#c4c4c4" stroke-width="1.1"/>
<text transform="translate(476,816.55) scale(1,1.02)" text-anchor="middle" font-family="'Liberation Sans', Arial, Helvetica, sans-serif" font-size="9" fill="#808080" stroke="#808080" stroke-width="0.15">CON5</text>
</g>
<rect x="127.5" y="549.7" width="433" height="446.4" fill="none" stroke="#3a3a3a" stroke-width="1.2"/>
<line x1="201.05" y1="996.1" x2="201.05" y2="998.8" stroke="#333" stroke-width="1.2"/>
<text x="201.05" y="1010.6" text-anchor="middle" font-family="'Liberation Sans', Arial, Helvetica, sans-serif" font-size="10.6" fill="#000" stroke="#000" stroke-width="0.2">-50</text>
<line x1="309.25" y1="996.1" x2="309.25" y2="998.8" stroke="#333" stroke-width="1.2"/>
<text x="309.25" y="1010.6" text-anchor="middle" font-family="'Liberation Sans', Arial, Helvetica, sans-serif" font-size="10.6" fill="#000" stroke="#000" stroke-width="0.2">0</text>
<line x1="417.45" y1="996.1" x2="417.45" y2="998.8" stroke="#333" stroke-width="1.2"/>
<text x="417.45" y="1010.6" text-anchor="middle" font-family="'Liberation Sans', Arial, Helvetica, sans-serif" font-size="10.6" fill="#000" stroke="#000" stroke-width="0.2">50</text>
<line x1="525.65" y1="996.1" x2="525.65" y2="998.8" stroke="#333" stroke-width="1.2"/>
<text x="525.65" y="1010.6" text-anchor="middle" font-family="'Liberation Sans', Arial, Helvetica, sans-serif" font-size="10.6" fill="#000" stroke="#000" stroke-width="0.2">100</text>
<line x1="124.8" y1="984.7" x2="127.5" y2="984.7" stroke="#333" stroke-width="1.2"/>
<text x="122.2" y="988.5" text-anchor="end" font-family="'Liberation Sans', Arial, Helvetica, sans-serif" font-size="10.6" fill="#000" stroke="#000" stroke-width="0.2">-100</text>
<line x1="124.8" y1="889.33" x2="127.5" y2="889.33" stroke="#333" stroke-width="1.2"/>
<text x="122.2" y="893.12" text-anchor="end" font-family="'Liberation Sans', Arial, Helvetica, sans-serif" font-size="10.6" fill="#000" stroke="#000" stroke-width="0.2">-50</text>
<line x1="124.8" y1="793.95" x2="127.5" y2="793.95" stroke="#333" stroke-width="1.2"/>
<text x="122.2" y="797.75" text-anchor="end" font-family="'Liberation Sans', Arial, Helvetica, sans-serif" font-size="10.6" fill="#000" stroke="#000" stroke-width="0.2">0</text>
<line x1="124.8" y1="698.58" x2="127.5" y2="698.58" stroke="#333" stroke-width="1.2"/>
<text x="122.2" y="702.38" text-anchor="end" font-family="'Liberation Sans', Arial, Helvetica, sans-serif" font-size="10.6" fill="#000" stroke="#000" stroke-width="0.2">50</text>
<line x1="124.8" y1="603.2" x2="127.5" y2="603.2" stroke="#333" stroke-width="1.2"/>
<text x="122.2" y="607" text-anchor="end" font-family="'Liberation Sans', Arial, Helvetica, sans-serif" font-size="10.6" fill="#000" stroke="#000" stroke-width="0.2">100</text>
<text x="344" y="540.6" text-anchor="middle" font-family="'Liberation Sans', Arial, Helvetica, sans-serif" font-size="14" fill="#000" stroke="#000" stroke-width="0.2">PCA Score Plot</text>
<text x="344" y="1024.3" text-anchor="middle" font-family="'Liberation Sans', Arial, Helvetica, sans-serif" font-size="12.3" fill="#000" stroke="#000" stroke-width="0.2">PC1(17.4%)</text>
<text transform="translate(94.99,772.9) rotate(-90)" text-anchor="middle" font-family="'Liberation Sans', Arial, Helvetica, sans-serif" font-size="12.3" fill="#000" stroke="#000" stroke-width="0.2">PC2(11.9%)</text>
<text x="577.2" y="761.3" font-family="'Liberation Sans', Arial, Helvetica, sans-serif" font-size="11.2" fill="#000" stroke="#000" stroke-width="0.2">Group</text>
<circle cx="583.8" cy="774.3" r="4.7" fill="#a8a8a8" fill-opacity="0.8" stroke="#a8a8a8" stroke-opacity="0.8" stroke-width="1.1"/>
<text x="595.7" y="778.5" font-family="'Liberation Sans', Arial, Helvetica, sans-serif" font-size="11.2" fill="#000" stroke="#000" stroke-width="0.2">Control</text>
<circle cx="583.8" cy="787.7" r="4.7" fill="#95b628" fill-opacity="0.8" stroke="#95b628" stroke-opacity="0.8" stroke-width="1.1"/>
<text x="595.7" y="791.9" font-family="'Liberation Sans', Arial, Helvetica, sans-serif" font-size="11.2" fill="#000" stroke="#000" stroke-width="0.2">Model</text>
<defs><clipPath id="c4"><rect x="694.6" y="548" width="442" height="446.2"/></clipPath></defs>
<g clip-path="url(#c4)">
<line x1="753.5" y1="548" x2="753.5" y2="994.2" stroke="#efefef" stroke-width="1.0"/>
<line x1="866.3" y1="548" x2="866.3" y2="994.2" stroke="#efefef" stroke-width="1.0"/>
<line x1="979.1" y1="548" x2="979.1" y2="994.2" stroke="#efefef" stroke-width="1.0"/>
<line x1="1091.9" y1="548" x2="1091.9" y2="994.2" stroke="#efefef" stroke-width="1.0"/>
<line x1="694.6" y1="952.12" x2="1136.6" y2="952.12" stroke="#efefef" stroke-width="1.0"/>
<line x1="694.6" y1="854.77" x2="1136.6" y2="854.77" stroke="#efefef" stroke-width="1.0"/>
<line x1="694.6" y1="757.43" x2="1136.6" y2="757.43" stroke="#efefef" stroke-width="1.0"/>
<line x1="694.6" y1="660.08" x2="1136.6" y2="660.08" stroke="#efefef" stroke-width="1.0"/>
<line x1="694.6" y1="562.73" x2="1136.6" y2="562.73" stroke="#efefef" stroke-width="1.0"/>
<line x1="697.1" y1="548" x2="697.1" y2="994.2" stroke="#ebebeb" stroke-width="1.4"/>
<line x1="809.9" y1="548" x2="809.9" y2="994.2" stroke="#ebebeb" stroke-width="1.4"/>
<line x1="922.7" y1="548" x2="922.7" y2="994.2" stroke="#ebebeb" stroke-width="1.4"/>
<line x1="1035.5" y1="548" x2="1035.5" y2="994.2" stroke="#ebebeb" stroke-width="1.4"/>
<line x1="694.6" y1="903.45" x2="1136.6" y2="903.45" stroke="#ebebeb" stroke-width="1.4"/>
<line x1="694.6" y1="806.1" x2="1136.6" y2="806.1" stroke="#ebebeb" stroke-width="1.4"/>
<line x1="694.6" y1="708.75" x2="1136.6" y2="708.75" stroke="#ebebeb" stroke-width="1.4"/>
<line x1="694.6" y1="611.4" x2="1136.6" y2="611.4" stroke="#ebebeb" stroke-width="1.4"/>
<circle cx="855.8" cy="722.3" r="4.6" fill="#95b628" fill-opacity="0.8" stroke="#95b628" stroke-opacity="0.8" stroke-width="1.1"/>
<circle cx="866" cy="711.8" r="4.6" fill="#95b628" fill-opacity="0.8" stroke="#95b628" stroke-opacity="0.8" stroke-width="1.1"/>
<circle cx="904.7" cy="751.7" r="4.6" fill="#95b628" fill-opacity="0.8" stroke="#95b628" stroke-opacity="0.8" stroke-width="1.1"/>
<circle cx="869.5" cy="757.4" r="4.6" fill="#95b628" fill-opacity="0.8" stroke="#95b628" stroke-opacity="0.8" stroke-width="1.1"/>
<circle cx="874.2" cy="808.3" r="4.6" fill="#95b628" fill-opacity="0.8" stroke="#95b628" stroke-opacity="0.8" stroke-width="1.1"/>
<circle cx="714" cy="918.3" r="4.6" fill="#95b628" fill-opacity="0.8" stroke="#95b628" stroke-opacity="0.8" stroke-width="1.1"/>
<circle cx="981" cy="774.9" r="4.6" fill="#8f96f8" fill-opacity="0.8" stroke="#8f96f8" stroke-opacity="0.8" stroke-width="1.1"/>
<circle cx="970.1" cy="840.5" r="4.6" fill="#8f96f8" fill-opacity="0.8" stroke="#8f96f8" stroke-opacity="0.8" stroke-width="1.1"/>
<circle cx="1030.9" cy="835.7" r="4.6" fill="#8f96f8" fill-opacity="0.8" stroke="#8f96f8" stroke-opacity="0.8" stroke-width="1.1"/>
<circle cx="1062.4" cy="798.9" r="4.6" fill="#8f96f8" fill-opacity="0.8" stroke="#8f96f8" stroke-opacity="0.8" stroke-width="1.1"/>
<circle cx="964.6" cy="882.2" r="4.6" fill="#8f96f8" fill-opacity="0.8" stroke="#8f96f8" stroke-opacity="0.8" stroke-width="1.1"/>
<circle cx="968.1" cy="892.2" r="4.6" fill="#8f96f8" fill-opacity="0.8" stroke="#8f96f8" stroke-opacity="0.8" stroke-width="1.1"/>
<ellipse cx="864.92" cy="757.65" rx="223.31" ry="91.18" transform="rotate(-54.95 864.92 757.65)" fill="#cd695f" fill-opacity="0.1" stroke="#8fb334" stroke-width="1.3"/>
<ellipse cx="993.61" cy="843.87" rx="159.63" ry="82.8" transform="rotate(-47.84 993.61 843.87)" fill="#19afc3" fill-opacity="0.1" stroke="#7b7ff2" stroke-width="1.3"/>
<rect x="849.7" y="705.4" width="31.8" height="12.6" rx="2" fill="#fff" stroke="#b9d37a" stroke-width="1.1"/>
<text transform="translate(865.6,715) scale(1,1.02)" text-anchor="middle" font-family="'Liberation Sans', Arial, Helvetica, sans-serif" font-size="9" fill="#88aa2c" stroke="#88aa2c" stroke-width="0.15">MOD1</text>
<rect x="859.9" y="687.15" width="31.8" height="12.6" rx="2" fill="#fff" stroke="#b9d37a" stroke-width="1.1"/>
<text transform="translate(875.8,696.75) scale(1,1.02)" text-anchor="middle" font-family="'Liberation Sans', Arial, Helvetica, sans-serif" font-size="9" fill="#88aa2c" stroke="#88aa2c" stroke-width="0.15">MOD3</text>
<rect x="899.05" y="734.9" width="31.8" height="12.6" rx="2" fill="#fff" stroke="#b9d37a" stroke-width="1.1"/>
<text transform="translate(914.95,744.5) scale(1,1.02)" text-anchor="middle" font-family="'Liberation Sans', Arial, Helvetica, sans-serif" font-size="9" fill="#88aa2c" stroke="#88aa2c" stroke-width="0.15">MOD4</text>
<rect x="843.75" y="761.1" width="31.8" height="12.6" rx="2" fill="#fff" stroke="#b9d37a" stroke-width="1.1"/>
<text transform="translate(859.65,770.7) scale(1,1.02)" text-anchor="middle" font-family="'Liberation Sans', Arial, Helvetica, sans-serif" font-size="9" fill="#88aa2c" stroke="#88aa2c" stroke-width="0.15">MOD5</text>
<rect x="868.4" y="791.85" width="31.8" height="12.6" rx="2" fill="#fff" stroke="#b9d37a" stroke-width="1.1"/>
<text transform="translate(884.3,801.45) scale(1,1.02)" text-anchor="middle" font-family="'Liberation Sans', Arial, Helvetica, sans-serif" font-size="9" fill="#88aa2c" stroke="#88aa2c" stroke-width="0.15">MOD2</text>
<rect x="696.8" y="922.15" width="31.8" height="12.6" rx="2" fill="#fff" stroke="#b9d37a" stroke-width="1.1"/>
<text transform="translate(712.7,931.75) scale(1,1.02)" text-anchor="middle" font-family="'Liberation Sans', Arial, Helvetica, sans-serif" font-size="9" fill="#88aa2c" stroke="#88aa2c" stroke-width="0.15">MOD6</text>
<rect x="955.8" y="779.3" width="31.31" height="12.6" rx="2" fill="#fff" stroke="#b4b8f7" stroke-width="1.1"/>
<text transform="translate(971.45,788.9) scale(1,1.02)" text-anchor="middle" font-family="'Liberation Sans', Arial, Helvetica, sans-serif" font-size="9" fill="#8086ee" stroke="#8086ee" stroke-width="0.15">WSP2</text>
<rect x="964.3" y="823.65" width="31.31" height="12.6" rx="2" fill="#fff" stroke="#b4b8f7" stroke-width="1.1"/>
<text transform="translate(979.95,833.25) scale(1,1.02)" text-anchor="middle" font-family="'Liberation Sans', Arial, Helvetica, sans-serif" font-size="9" fill="#8086ee" stroke="#8086ee" stroke-width="0.15">WSP3</text>
<rect x="1023.6" y="819.75" width="31.31" height="12.6" rx="2" fill="#fff" stroke="#b4b8f7" stroke-width="1.1"/>
<text transform="translate(1039.25,829.35) scale(1,1.02)" text-anchor="middle" font-family="'Liberation Sans', Arial, Helvetica, sans-serif" font-size="9" fill="#8086ee" stroke="#8086ee" stroke-width="0.15">WSP1</text>
<rect x="1038.55" y="801.9" width="31.31" height="12.6" rx="2" fill="#fff" stroke="#b4b8f7" stroke-width="1.1"/>
<text transform="translate(1054.2,811.5) scale(1,1.02)" text-anchor="middle" font-family="'Liberation Sans', Arial, Helvetica, sans-serif" font-size="9" fill="#8086ee" stroke="#8086ee" stroke-width="0.15">WSP4</text>
<rect x="938.95" y="865.65" width="31.31" height="12.6" rx="2" fill="#fff" stroke="#b4b8f7" stroke-width="1.1"/>
<text transform="translate(954.6,875.25) scale(1,1.02)" text-anchor="middle" font-family="'Liberation Sans', Arial, Helvetica, sans-serif" font-size="9" fill="#8086ee" stroke="#8086ee" stroke-width="0.15">WSP6</text>
<rect x="962.3" y="895.85" width="31.31" height="12.6" rx="2" fill="#fff" stroke="#b4b8f7" stroke-width="1.1"/>
<text transform="translate(977.95,905.45) scale(1,1.02)" text-anchor="middle" font-family="'Liberation Sans', Arial, Helvetica, sans-serif" font-size="9" fill="#8086ee" stroke="#8086ee" stroke-width="0.15">WSP5</text>
</g>
<rect x="694.6" y="548" width="442" height="446.2" fill="none" stroke="#3a3a3a" stroke-width="1.2"/>
<line x1="697.1" y1="994.2" x2="697.1" y2="996.9" stroke="#333" stroke-width="1.2"/>
<text x="697.1" y="1008.7" text-anchor="middle" font-family="'Liberation Sans', Arial, Helvetica, sans-serif" font-size="10.6" fill="#000" stroke="#000" stroke-width="0.2">-100</text>
<line x1="809.9" y1="994.2" x2="809.9" y2="996.9" stroke="#333" stroke-width="1.2"/>
<text x="809.9" y="1008.7" text-anchor="middle" font-family="'Liberation Sans', Arial, Helvetica, sans-serif" font-size="10.6" fill="#000" stroke="#000" stroke-width="0.2">-50</text>
<line x1="922.7" y1="994.2" x2="922.7" y2="996.9" stroke="#333" stroke-width="1.2"/>
<text x="922.7" y="1008.7" text-anchor="middle" font-family="'Liberation Sans', Arial, Helvetica, sans-serif" font-size="10.6" fill="#000" stroke="#000" stroke-width="0.2">0</text>
<line x1="1035.5" y1="994.2" x2="1035.5" y2="996.9" stroke="#333" stroke-width="1.2"/>
<text x="1035.5" y="1008.7" text-anchor="middle" font-family="'Liberation Sans', Arial, Helvetica, sans-serif" font-size="10.6" fill="#000" stroke="#000" stroke-width="0.2">50</text>
<line x1="691.9" y1="903.45" x2="694.6" y2="903.45" stroke="#333" stroke-width="1.2"/>
<text x="689.3" y="907.25" text-anchor="end" font-family="'Liberation Sans', Arial, Helvetica, sans-serif" font-size="10.6" fill="#000" stroke="#000" stroke-width="0.2">-50</text>
<line x1="691.9" y1="806.1" x2="694.6" y2="806.1" stroke="#333" stroke-width="1.2"/>
<text x="689.3" y="809.9" text-anchor="end" font-family="'Liberation Sans', Arial, Helvetica, sans-serif" font-size="10.6" fill="#000" stroke="#000" stroke-width="0.2">0</text>
<line x1="691.9" y1="708.75" x2="694.6" y2="708.75" stroke="#333" stroke-width="1.2"/>
<text x="689.3" y="712.55" text-anchor="end" font-family="'Liberation Sans', Arial, Helvetica, sans-serif" font-size="10.6" fill="#000" stroke="#000" stroke-width="0.2">50</text>
<line x1="691.9" y1="611.4" x2="694.6" y2="611.4" stroke="#333" stroke-width="1.2"/>
<text x="689.3" y="615.2" text-anchor="end" font-family="'Liberation Sans', Arial, Helvetica, sans-serif" font-size="10.6" fill="#000" stroke="#000" stroke-width="0.2">100</text>
<text x="915.6" y="538.9" text-anchor="middle" font-family="'Liberation Sans', Arial, Helvetica, sans-serif" font-size="14" fill="#000" stroke="#000" stroke-width="0.2">PCA Score Plot</text>
<text x="915.6" y="1022.4" text-anchor="middle" font-family="'Liberation Sans', Arial, Helvetica, sans-serif" font-size="12.3" fill="#000" stroke="#000" stroke-width="0.2">PC1(15.3%)</text>
<text transform="translate(665.62,771.1) rotate(-90)" text-anchor="middle" font-family="'Liberation Sans', Arial, Helvetica, sans-serif" font-size="12.3" fill="#000" stroke="#000" stroke-width="0.2">PC2(11.5%)</text>
<text x="1153.3" y="759.5" font-family="'Liberation Sans', Arial, Helvetica, sans-serif" font-size="11.2" fill="#000" stroke="#000" stroke-width="0.2">Group</text>
<circle cx="1159.9" cy="772.5" r="4.7" fill="#95b628" fill-opacity="0.8" stroke="#95b628" stroke-opacity="0.8" stroke-width="1.1"/>
<text x="1171.8" y="776.7" font-family="'Liberation Sans', Arial, Helvetica, sans-serif" font-size="11.2" fill="#000" stroke="#000" stroke-width="0.2">Model</text>
<circle cx="1159.9" cy="785.9" r="4.7" fill="#8f96f8" fill-opacity="0.8" stroke="#8f96f8" stroke-opacity="0.8" stroke-width="1.1"/>
<text x="1171.8" y="790.1" font-family="'Liberation Sans', Arial, Helvetica, sans-serif" font-size="11.2" fill="#000" stroke="#000" stroke-width="0.2">WSP</text>
<defs><clipPath id="c5"><rect x="1257.1" y="542.6" width="445.4" height="452.9"/></clipPath></defs>
<g clip-path="url(#c5)">
<line x1="1308.65" y1="542.6" x2="1308.65" y2="995.5" stroke="#efefef" stroke-width="1.0"/>
<line x1="1432.35" y1="542.6" x2="1432.35" y2="995.5" stroke="#efefef" stroke-width="1.0"/>
<line x1="1556.05" y1="542.6" x2="1556.05" y2="995.5" stroke="#efefef" stroke-width="1.0"/>
<line x1="1679.75" y1="542.6" x2="1679.75" y2="995.5" stroke="#efefef" stroke-width="1.0"/>
<line x1="1257.1" y1="954.8" x2="1702.5" y2="954.8" stroke="#efefef" stroke-width="1.0"/>
<line x1="1257.1" y1="873" x2="1702.5" y2="873" stroke="#efefef" stroke-width="1.0"/>
<line x1="1257.1" y1="791.2" x2="1702.5" y2="791.2" stroke="#efefef" stroke-width="1.0"/>
<line x1="1257.1" y1="709.4" x2="1702.5" y2="709.4" stroke="#efefef" stroke-width="1.0"/>
<line x1="1257.1" y1="627.6" x2="1702.5" y2="627.6" stroke="#efefef" stroke-width="1.0"/>
<line x1="1257.1" y1="545.8" x2="1702.5" y2="545.8" stroke="#efefef" stroke-width="1.0"/>
<line x1="1370.5" y1="542.6" x2="1370.5" y2="995.5" stroke="#ebebeb" stroke-width="1.4"/>
<line x1="1494.2" y1="542.6" x2="1494.2" y2="995.5" stroke="#ebebeb" stroke-width="1.4"/>
<line x1="1617.9" y1="542.6" x2="1617.9" y2="995.5" stroke="#ebebeb" stroke-width="1.4"/>
<line x1="1257.1" y1="995.7" x2="1702.5" y2="995.7" stroke="#ebebeb" stroke-width="1.4"/>
<line x1="1257.1" y1="913.9" x2="1702.5" y2="913.9" stroke="#ebebeb" stroke-width="1.4"/>
<line x1="1257.1" y1="832.1" x2="1702.5" y2="832.1" stroke="#ebebeb" stroke-width="1.4"/>
<line x1="1257.1" y1="750.3" x2="1702.5" y2="750.3" stroke="#ebebeb" stroke-width="1.4"/>
<line x1="1257.1" y1="668.5" x2="1702.5" y2="668.5" stroke="#ebebeb" stroke-width="1.4"/>
<line x1="1257.1" y1="586.7" x2="1702.5" y2="586.7" stroke="#ebebeb" stroke-width="1.4"/>
<circle cx="1424.4" cy="683" r="4.6" fill="#95b628" fill-opacity="0.8" stroke="#95b628" stroke-opacity="0.8" stroke-width="1.1"/>
<circle cx="1406.7" cy="706.7" r="4.6" fill="#95b628" fill-opacity="0.8" stroke="#95b628" stroke-opacity="0.8" stroke-width="1.1"/>
<circle cx="1442.9" cy="694.4" r="4.6" fill="#95b628" fill-opacity="0.8" stroke="#95b628" stroke-opacity="0.8" stroke-width="1.1"/>
<circle cx="1433.9" cy="718.1" r="4.6" fill="#95b628" fill-opacity="0.8" stroke="#95b628" stroke-opacity="0.8" stroke-width="1.1"/>
<circle cx="1415.4" cy="733" r="4.6" fill="#95b628" fill-opacity="0.8" stroke="#95b628" stroke-opacity="0.8" stroke-width="1.1"/>
<circle cx="1276.3" cy="832.5" r="4.6" fill="#95b628" fill-opacity="0.8" stroke="#95b628" stroke-opacity="0.8" stroke-width="1.1"/>
<circle cx="1620.9" cy="704.7" r="4.6" fill="#e78c2c" fill-opacity="0.8" stroke="#e78c2c" stroke-opacity="0.8" stroke-width="1.1"/>
<circle cx="1611.1" cy="706.4" r="4.6" fill="#e78c2c" fill-opacity="0.8" stroke="#e78c2c" stroke-opacity="0.8" stroke-width="1.1"/>
<circle cx="1610.6" cy="755.9" r="4.6" fill="#e78c2c" fill-opacity="0.8" stroke="#e78c2c" stroke-opacity="0.8" stroke-width="1.1"/>
<circle cx="1575.6" cy="765.4" r="4.6" fill="#e78c2c" fill-opacity="0.8" stroke="#e78c2c" stroke-opacity="0.8" stroke-width="1.1"/>
<circle cx="1553.4" cy="840.9" r="4.6" fill="#e78c2c" fill-opacity="0.8" stroke="#e78c2c" stroke-opacity="0.8" stroke-width="1.1"/>
<circle cx="1557.3" cy="861.9" r="4.6" fill="#e78c2c" fill-opacity="0.8" stroke="#e78c2c" stroke-opacity="0.8" stroke-width="1.1"/>
<ellipse cx="1415" cy="716.25" rx="174.69" ry="43.5" transform="rotate(138.33 1415 716.25)" fill="#19afc3" fill-opacity="0.1" stroke="#8fb334" stroke-width="1.3"/>
<ellipse cx="1589.11" cy="769.48" rx="224.48" ry="29.93" transform="rotate(-66.85 1589.11 769.48)" fill="#cd695f" fill-opacity="0.1" stroke="#e8822c" stroke-width="1.3"/>
<rect x="1399" y="665.7" width="31.8" height="12.6" rx="2" fill="#fff" stroke="#b9d37a" stroke-width="1.1"/>
<text transform="translate(1414.9,675.3) scale(1,1.02)" text-anchor="middle" font-family="'Liberation Sans', Arial, Helvetica, sans-serif" font-size="9" fill="#88aa2c" stroke="#88aa2c" stroke-width="0.15">MOD3</text>
<rect x="1381.3" y="690.15" width="31.8" height="12.6" rx="2" fill="#fff" stroke="#b9d37a" stroke-width="1.1"/>
<text transform="translate(1397.2,699.75) scale(1,1.02)" text-anchor="middle" font-family="'Liberation Sans', Arial, Helvetica, sans-serif" font-size="9" fill="#88aa2c" stroke="#88aa2c" stroke-width="0.15">MOD1</text>
<rect x="1437" y="699" width="31.8" height="12.6" rx="2" fill="#fff" stroke="#b9d37a" stroke-width="1.1"/>
<text transform="translate(1452.9,708.6) scale(1,1.02)" text-anchor="middle" font-family="'Liberation Sans', Arial, Helvetica, sans-serif" font-size="9" fill="#88aa2c" stroke="#88aa2c" stroke-width="0.15">MOD4</text>
<rect x="1428.1" y="722.2" width="31.8" height="12.6" rx="2" fill="#fff" stroke="#b9d37a" stroke-width="1.1"/>
<text transform="translate(1444,731.8) scale(1,1.02)" text-anchor="middle" font-family="'Liberation Sans', Arial, Helvetica, sans-serif" font-size="9" fill="#88aa2c" stroke="#88aa2c" stroke-width="0.15">MOD5</text>
<rect x="1390" y="737.15" width="31.8" height="12.6" rx="2" fill="#fff" stroke="#b9d37a" stroke-width="1.1"/>
<text transform="translate(1405.9,746.75) scale(1,1.02)" text-anchor="middle" font-family="'Liberation Sans', Arial, Helvetica, sans-serif" font-size="9" fill="#88aa2c" stroke="#88aa2c" stroke-width="0.15">MOD2</text>
<rect x="1259.4" y="836.9" width="31.8" height="12.6" rx="2" fill="#fff" stroke="#b9d37a" stroke-width="1.1"/>
<text transform="translate(1275.3,846.5) scale(1,1.02)" text-anchor="middle" font-family="'Liberation Sans', Arial, Helvetica, sans-serif" font-size="9" fill="#88aa2c" stroke="#88aa2c" stroke-width="0.15">MOD6</text>
<rect x="1615.95" y="688" width="29.31" height="12.6" rx="2" fill="#fff" stroke="#f0bb84" stroke-width="1.1"/>
<text transform="translate(1630.6,697.6) scale(1,1.02)" text-anchor="middle" font-family="'Liberation Sans', Arial, Helvetica, sans-serif" font-size="9" fill="#dd8530" stroke="#dd8530" stroke-width="0.15">ETO4</text>
<rect x="1586.7" y="710.9" width="29.31" height="12.6" rx="2" fill="#fff" stroke="#f0bb84" stroke-width="1.1"/>
<text transform="translate(1601.35,720.5) scale(1,1.02)" text-anchor="middle" font-family="'Liberation Sans', Arial, Helvetica, sans-serif" font-size="9" fill="#dd8530" stroke="#dd8530" stroke-width="0.15">ETO2</text>
<rect x="1605.8" y="739.6" width="29.31" height="12.6" rx="2" fill="#fff" stroke="#f0bb84" stroke-width="1.1"/>
<text transform="translate(1620.45,749.2) scale(1,1.02)" text-anchor="middle" font-family="'Liberation Sans', Arial, Helvetica, sans-serif" font-size="9" fill="#dd8530" stroke="#dd8530" stroke-width="0.15">ETO1</text>
<rect x="1551.5" y="769.65" width="29.31" height="12.6" rx="2" fill="#fff" stroke="#f0bb84" stroke-width="1.1"/>
<text transform="translate(1566.15,779.25) scale(1,1.02)" text-anchor="middle" font-family="'Liberation Sans', Arial, Helvetica, sans-serif" font-size="9" fill="#dd8530" stroke="#dd8530" stroke-width="0.15">ETO3</text>
<rect x="1548.75" y="824" width="29.31" height="12.6" rx="2" fill="#fff" stroke="#f0bb84" stroke-width="1.1"/>
<text transform="translate(1563.4,833.6) scale(1,1.02)" text-anchor="middle" font-family="'Liberation Sans', Arial, Helvetica, sans-serif" font-size="9" fill="#dd8530" stroke="#dd8530" stroke-width="0.15">ETO5</text>
<rect x="1532.8" y="865.65" width="29.31" height="12.6" rx="2" fill="#fff" stroke="#f0bb84" stroke-width="1.1"/>
<text transform="translate(1547.45,875.25) scale(1,1.02)" text-anchor="middle" font-family="'Liberation Sans', Arial, Helvetica, sans-serif" font-size="9" fill="#dd8530" stroke="#dd8530" stroke-width="0.15">ETO6</text>
</g>
<rect x="1257.1" y="542.6" width="445.4" height="452.9" fill="none" stroke="#3a3a3a" stroke-width="1.2"/>
<line x1="1370.5" y1="995.5" x2="1370.5" y2="998.2" stroke="#333" stroke-width="1.2"/>
<text x="1370.5" y="1010" text-anchor="middle" font-family="'Liberation Sans', Arial, Helvetica, sans-serif" font-size="10.6" fill="#000" stroke="#000" stroke-width="0.2">-50</text>
<line x1="1494.2" y1="995.5" x2="1494.2" y2="998.2" stroke="#333" stroke-width="1.2"/>
<text x="1494.2" y="1010" text-anchor="middle" font-family="'Liberation Sans', Arial, Helvetica, sans-serif" font-size="10.6" fill="#000" stroke="#000" stroke-width="0.2">0</text>
<line x1="1617.9" y1="995.5" x2="1617.9" y2="998.2" stroke="#333" stroke-width="1.2"/>
<text x="1617.9" y="1010" text-anchor="middle" font-family="'Liberation Sans', Arial, Helvetica, sans-serif" font-size="10.6" fill="#000" stroke="#000" stroke-width="0.2">50</text>
<line x1="1254.4" y1="995.7" x2="1257.1" y2="995.7" stroke="#333" stroke-width="1.2"/>
<text x="1251.8" y="999.5" text-anchor="end" font-family="'Liberation Sans', Arial, Helvetica, sans-serif" font-size="10.6" fill="#000" stroke="#000" stroke-width="0.2">-150</text>
<line x1="1254.4" y1="913.9" x2="1257.1" y2="913.9" stroke="#333" stroke-width="1.2"/>
<text x="1251.8" y="917.7" text-anchor="end" font-family="'Liberation Sans', Arial, Helvetica, sans-serif" font-size="10.6" fill="#000" stroke="#000" stroke-width="0.2">-100</text>
<line x1="1254.4" y1="832.1" x2="1257.1" y2="832.1" stroke="#333" stroke-width="1.2"/>
<text x="1251.8" y="835.9" text-anchor="end" font-family="'Liberation Sans', Arial, Helvetica, sans-serif" font-size="10.6" fill="#000" stroke="#000" stroke-width="0.2">-50</text>
<line x1="1254.4" y1="750.3" x2="1257.1" y2="750.3" stroke="#333" stroke-width="1.2"/>
<text x="1251.8" y="754.1" text-anchor="end" font-family="'Liberation Sans', Arial, Helvetica, sans-serif" font-size="10.6" fill="#000" stroke="#000" stroke-width="0.2">0</text>
<line x1="1254.4" y1="668.5" x2="1257.1" y2="668.5" stroke="#333" stroke-width="1.2"/>
<text x="1251.8" y="672.3" text-anchor="end" font-family="'Liberation Sans', Arial, Helvetica, sans-serif" font-size="10.6" fill="#000" stroke="#000" stroke-width="0.2">50</text>
<line x1="1254.4" y1="586.7" x2="1257.1" y2="586.7" stroke="#333" stroke-width="1.2"/>
<text x="1251.8" y="590.5" text-anchor="end" font-family="'Liberation Sans', Arial, Helvetica, sans-serif" font-size="10.6" fill="#000" stroke="#000" stroke-width="0.2">100</text>
<text x="1479.8" y="533.5" text-anchor="middle" font-family="'Liberation Sans', Arial, Helvetica, sans-serif" font-size="14" fill="#000" stroke="#000" stroke-width="0.2">PCA Score Plot</text>
<text x="1479.8" y="1023.7" text-anchor="middle" font-family="'Liberation Sans', Arial, Helvetica, sans-serif" font-size="12.3" fill="#000" stroke="#000" stroke-width="0.2">PC1(17.1%)</text>
<text transform="translate(1224.59,769.05) rotate(-90)" text-anchor="middle" font-family="'Liberation Sans', Arial, Helvetica, sans-serif" font-size="12.3" fill="#000" stroke="#000" stroke-width="0.2">PC2(12.9%)</text>
<text x="1719.2" y="757.45" font-family="'Liberation Sans', Arial, Helvetica, sans-serif" font-size="11.2" fill="#000" stroke="#000" stroke-width="0.2">Group</text>
<circle cx="1725.8" cy="770.45" r="4.7" fill="#e78c2c" fill-opacity="0.8" stroke="#e78c2c" stroke-opacity="0.8" stroke-width="1.1"/>
<text x="1737.7" y="774.65" font-family="'Liberation Sans', Arial, Helvetica, sans-serif" font-size="11.2" fill="#000" stroke="#000" stroke-width="0.2">ETO</text>
<circle cx="1725.8" cy="783.85" r="4.7" fill="#95b628" fill-opacity="0.8" stroke="#95b628" stroke-opacity="0.8" stroke-width="1.1"/>
<text x="1737.7" y="788.05" font-family="'Liberation Sans', Arial, Helvetica, sans-serif" font-size="11.2" fill="#000" stroke="#000" stroke-width="0.2">Model</text>
</svg>
</body></html>
